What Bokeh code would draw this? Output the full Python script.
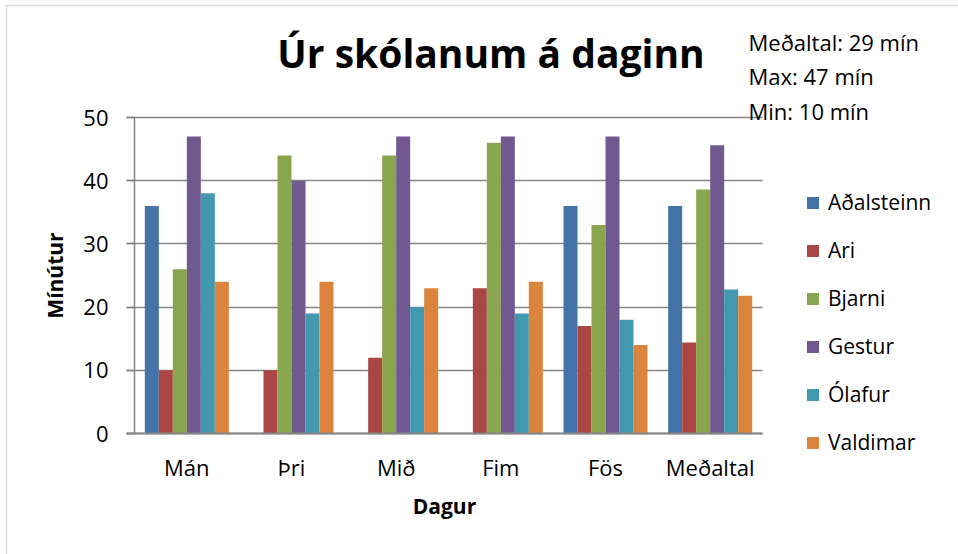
import numpy as np
from bokeh.plotting import figure
from bokeh.models import (ColumnDataSource, Label, Legend, LegendItem, Range1d,
                          FixedTicker, BoxAnnotation)
from bokeh.transform import dodge
from bokeh.embed import file_html
from bokeh.resources import INLINE

# ---------------- data ----------------
days = ["Mán", "Þri", "Mið", "Fim", "Fös", "Meðaltal"]
series_names = ["Aðalsteinn", "Ari", "Bjarni", "Gestur", "Ólafur", "Valdimar"]
adalsteinn = [36, 0, 0, 0, 36, 36]
ari = [10, 10, 12, 23, 17, 14.4]
bjarni = [26, 44, 44, 46, 33, 38.6]
gestur = [47, 40, 47, 47, 47, 45.6]
olafur = [38, 19, 20, 19, 18, 22.8]
valdimar = [24, 24, 23, 24, 14, 21.8]
y_ticks = [0, 10, 20, 30, 40, 50]
stats_lines = ["Meðaltal: 29 mín", "Max: 47 mín", "Min: 10 mín"]
title_text = "Úr skólanum á daginn"
y_label = "Mínútur"
x_label = "Dagur"

# ---------------- style / layout ----------------
colors = ["#4572A7", "#AA4643", "#89A54E", "#71588F", "#4198AF", "#DB843D"]
FONT = "Open Sans"
GRAY = "#868686"
W, H = 958, 554
X0_PX, X6_PX = 134, 762      # pixel x of category-axis start / end
Y0_PX, Y50_PX = 433, 117     # pixel y of value 0 / 50
ppx = (X6_PX - X0_PX) / len(days)
ppy = (Y0_PX - Y50_PX) / 50.0


def dx(px):
    return (px - X0_PX) / ppx


def dy(py):
    return (Y0_PX - py) / ppy


x_range = Range1d(dx(0), dx(W))
y_range = Range1d(dy(H), dy(0))

centers = list(np.arange(len(days)) + 0.5)
source = ColumnDataSource(dict(xc=centers, s0=adalsteinn, s1=ari, s2=bjarni,
                               s3=gestur, s4=olafur, s5=valdimar))

p = figure(width=W, height=H, x_range=x_range, y_range=y_range,
           output_backend="svg", toolbar_location=None, min_border=0)
p.outline_line_color = None
p.background_fill_color = "white"
p.border_fill_color = "white"

bw = 14 / ppx
renderers = []
for i, name in enumerate(series_names):
    r = p.vbar(x=dodge("xc", (i - 2.5) * bw), top="s%d" % i, width=bw,
               source=source, fill_color=colors[i], line_color=None)
    renderers.append(r)

# ---------------- grid ----------------
p.xgrid.grid_line_color = None
p.ygrid.ticker = FixedTicker(ticks=y_ticks)
p.ygrid.grid_line_color = GRAY
p.ygrid.grid_line_width = 1.5
p.ygrid.bounds = (0, 50)
p.ygrid.cross_bounds = (dx(126), len(days))

# ---------------- y axis ----------------
yax = p.yaxis[0]
yax.fixed_location = 0
yax.bounds = (0, 50)
yax.ticker = FixedTicker(ticks=y_ticks)
yax.axis_line_color = GRAY
yax.axis_line_width = 1.5
yax.major_tick_line_color = GRAY
yax.major_tick_line_width = 1.5
yax.major_tick_out = 8
yax.major_tick_in = 0
yax.minor_tick_line_color = None
yax.major_label_text_font = FONT
yax.major_label_text_font_size = "22px"
yax.major_label_text_color = "black"
yax.major_label_standoff = 18
yax.axis_label = y_label
yax.axis_label_text_font = FONT
yax.axis_label_text_font_style = "bold"
yax.axis_label_text_font_size = "21px"
yax.axis_label_text_color = "black"
yax.axis_label_standoff = 11

# ---------------- x axis ----------------
xax = p.xaxis[0]
xax.fixed_location = 0
xax.bounds = (dx(126), len(days))
xax.ticker = FixedTicker(ticks=centers)
xax.major_label_overrides = {c: d for c, d in zip(centers, days)}
xax.axis_line_color = GRAY
xax.axis_line_width = 2
xax.major_tick_line_color = None
xax.major_tick_out = 0
xax.major_tick_in = 0
xax.minor_tick_line_color = None
xax.major_label_text_font = FONT
xax.major_label_text_font_size = "22px"
xax.major_label_text_color = "black"
xax.major_label_standoff = 18
xax.axis_label = x_label
xax.axis_label_text_font = FONT
xax.axis_label_text_font_style = "bold"
xax.axis_label_text_font_size = "21px"
xax.axis_label_text_color = "black"
xax.axis_label_standoff = 7

# ---------------- chart border ----------------
p.add_layout(BoxAnnotation(left=dx(6), top=dy(5), right=dx(W + 10), bottom=dy(H + 10),
                           fill_alpha=0, line_color=GRAY, line_width=1.5))

# ---------------- title ----------------
p.add_layout(Label(x=dx(490.5), y=dy(52), text=title_text, text_font=FONT,
                   text_font_style="bold", text_font_size="39px", text_align="center",
                   text_baseline="alphabetic", text_color="black"))

# ---------------- stats ----------------
for t, yy in zip(stats_lines, [41, 75, 110]):
    p.add_layout(Label(x=dx(748), y=dy(yy), text=t, text_font=FONT, text_font_size="22px",
                       text_align="left", text_baseline="alphabetic", text_color="black"))

# ---------------- legend ----------------
items = [LegendItem(label=n, renderers=[r]) for n, r in zip(series_names, renderers)]
legend = Legend(items=items, location=(805, H - 456), orientation="vertical",
                glyph_width=15, glyph_height=15, label_height=20, spacing=20,
                label_standoff=8, padding=0, margin=0,
                label_text_font=FONT, label_text_font_size="21px", label_text_color="black",
                border_line_color=None, background_fill_alpha=0)
p.add_layout(legend, "center")

open("out.html", "w").write(file_html(p, INLINE))
